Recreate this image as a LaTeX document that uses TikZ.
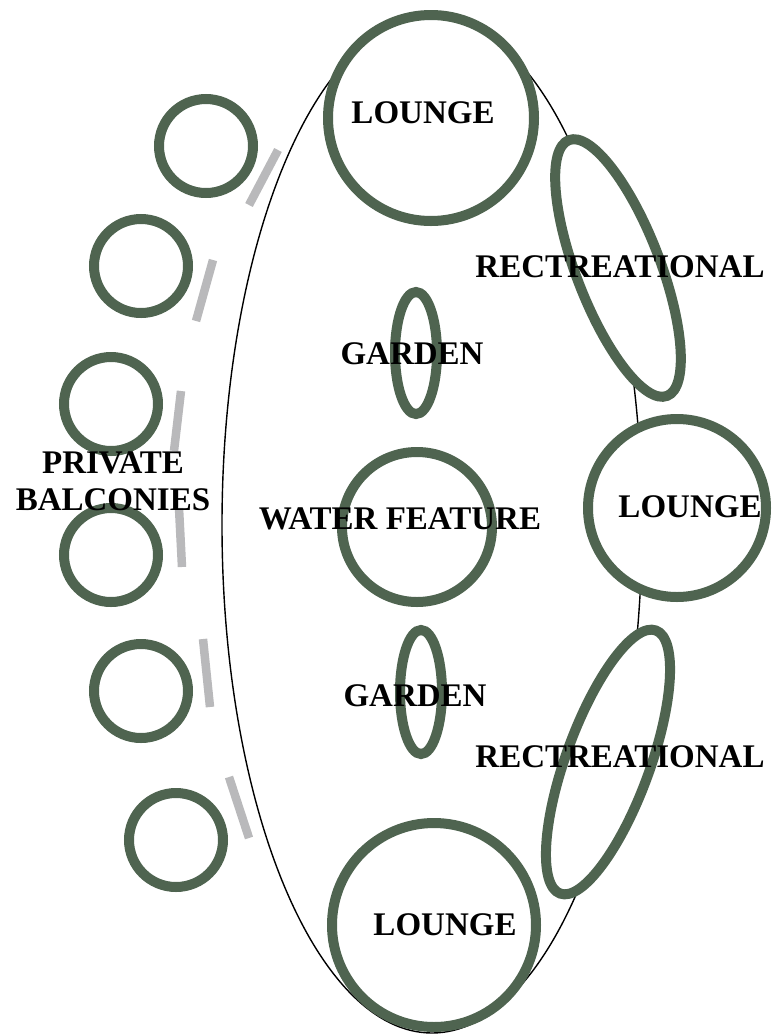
\documentclass[tikz,border=0pt]{standalone}
\usepackage{fontspec}
\setmainfont{Liberation Serif}
\usetikzlibrary{shapes.geometric}
\definecolor{sage}{HTML}{4F6450}
\definecolor{slab}{HTML}{B9B9BB}
\tikzset{ring/.style={draw=sage,line width=10pt,fill=white,inner sep=0pt},zone/.style={ring,ellipse},lbl/.style={font=\fontsize{33}{37}\selectfont\bfseries,inner sep=0pt,align=center},bar/.style={draw=slab,line width=8.5pt}}

\begin{document}
\begin{tikzpicture}[x=1pt,y=-1pt]
\useasboundingbox (0,0) rectangle (774,1034);
\node[draw,ellipse,line width=1.4pt,minimum width=420pt,minimum height=1016pt,inner sep=0pt] (site) at (432,525) {};
\node[ring,circle,minimum size=206pt] (lngtop) at (431,118) {};
\node[ring,circle,minimum size=178pt] (lngmid) at (677,508) {};
\node[ring,circle,minimum size=204pt] (lngbot) at (434,925) {};
\node[zone,minimum width=84pt,minimum height=274pt,rotate=21] (rectop) at (618,268) {};
\node[zone,minimum width=84pt,minimum height=280pt,rotate=-20] (recbot) at (608,762) {};
\node[zone,minimum width=42pt,minimum height=122pt] (gdntop) at (416,353) {};
\node[zone,minimum width=42pt,minimum height=124pt] (gdnbot) at (421,692) {};
\node[ring,circle,minimum size=150pt] (water) at (417,527) {};
\node[ring,circle,minimum size=94pt] (balc1) at (206,146) {};
\node[ring,circle,minimum size=94pt] (balc2) at (141,266) {};
\node[ring,circle,minimum size=94pt] (balc3) at (111,404) {};
\node[ring,circle,minimum size=94pt] (balc4) at (111,555) {};
\node[ring,circle,minimum size=94pt] (balc5) at (141,691) {};
\node[ring,circle,minimum size=94pt] (balc6) at (176,840) {};
\draw[bar] (278,150) -- (249,205);
\draw[bar] (213,260) -- (196,321);
\draw[bar] (181,391) -- (174,451);
\draw[bar] (179,508) -- (182,567);
\draw[bar] (203,639) -- (210,707);
\draw[bar] (229,777) -- (249,838);
\node[lbl] (lngtopL) at (423,113) {LOUNGE};
\node[lbl] (lngmidL) at (690,507) {LOUNGE};
\node[lbl] (lngbotL) at (445,925) {LOUNGE};
\node[lbl] (rectopL) at (620,267) {RECTREATIONAL};
\node[lbl] (recbotL) at (620,757) {RECTREATIONAL};
\node[lbl] (gdntopL) at (412,354) {GARDEN};
\node[lbl] (gdnbotL) at (415,696) {GARDEN};
\node[lbl] (waterL) at (400,519) {WATER FEATURE};
\node[lbl] (balcL) at (113,481) {PRIVATE\\BALCONIES};
\end{tikzpicture}
\end{document}
